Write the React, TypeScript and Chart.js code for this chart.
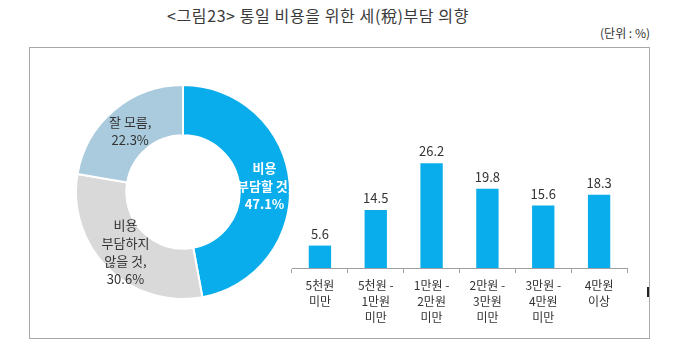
import React, { useEffect, useRef } from 'react';
import { Chart, registerables } from 'chart.js';

Chart.register(...registerables);

const FONT = '"Noto Sans CJK KR", "Noto Sans", sans-serif';

const titleText = '<그림23> 통일 비용을 위한 세(稅)부담 의향';
const unitText = '(단위 : %)';

const donutCategories = [['비용', '부담할 것'], ['비용', '부담하지', '않을 것'], ['잘 모름']];
const donutValues = [47.1, 30.6, 22.3];
const donutColors = ['#0aadeb', '#d9d9d9', '#a9cbdd'];

const barCategories = [
  ['5천원', '미만'],
  ['5천원 -', '1만원', '미만'],
  ['1만원 -', '2만원', '미만'],
  ['2만원 -', '3만원', '미만'],
  ['3만원 -', '4만원', '미만'],
  ['4만원', '이상'],
];
const barValues = [5.6, 14.5, 26.2, 19.8, 15.6, 18.3];

const donutLabelPlugin = {
  id: 'donutLabels',
  afterDatasetsDraw(chart: any) {
    const ctx = chart.ctx;
    const meta = chart.getDatasetMeta(0);
    meta.data.forEach((arc: any, i: number) => {
      const p = arc.tooltipPosition(false);
      const lines = [...donutCategories[i]];
      lines[lines.length - 1] += ',';
      lines.push(donutValues[i].toFixed(1) + '%');
      const lh = 18;
      ctx.save();
      ctx.font = (i === 0 ? 'bold ' : '') + '13px ' + FONT;
      ctx.fillStyle = i === 0 ? '#ffffff' : '#333333';
      ctx.textAlign = 'center';
      ctx.textBaseline = 'middle';
      const y0 = p.y + 2 - ((lines.length - 1) * lh) / 2;
      lines.forEach((l, j) => ctx.fillText(l, p.x, y0 + j * lh));
      ctx.restore();
    });
  },
};

const barLabelPlugin = {
  id: 'barLabels',
  afterDatasetsDraw(chart: any) {
    const ctx = chart.ctx;
    const meta = chart.getDatasetMeta(0);
    ctx.save();
    ctx.font = '13px ' + FONT;
    ctx.fillStyle = '#333333';
    ctx.textAlign = 'center';
    ctx.textBaseline = 'middle';
    meta.data.forEach((bar: any, i: number) => {
      ctx.fillText(barValues[i].toFixed(1), bar.x, bar.y - 12);
    });
    ctx.restore();
  },
};

export default function App() {
  const donutRef = useRef<HTMLCanvasElement>(null);
  const barRef = useRef<HTMLCanvasElement>(null);

  useEffect(() => {
    Chart.defaults.font.family = FONT;
    const donut = new Chart(donutRef.current as HTMLCanvasElement, {
      type: 'doughnut',
      data: {
        labels: donutCategories.map((c) => c.join(' ')),
        datasets: [
          {
            data: donutValues,
            backgroundColor: donutColors,
            borderColor: '#ffffff',
            borderWidth: 2,
          },
        ],
      },
      options: {
        animation: false,
        responsive: false,
        cutout: '53%',
        layout: { padding: 0 },
        plugins: { legend: { display: false }, tooltip: { enabled: false } },
      },
      plugins: [donutLabelPlugin],
    } as any);

    const bar = new Chart(barRef.current as HTMLCanvasElement, {
      type: 'bar',
      data: {
        labels: barCategories,
        datasets: [
          {
            data: barValues,
            backgroundColor: '#0aadeb',
            barPercentage: 0.4,
            categoryPercentage: 1,
          },
        ],
      },
      options: {
        animation: false,
        responsive: false,
        layout: { padding: { left: 12, right: 13, top: 18, bottom: 0 } },
        plugins: { legend: { display: false }, tooltip: { enabled: false } },
        scales: {
          x: {
            grid: {
              display: true,
              drawOnChartArea: false,
              drawTicks: true,
              tickLength: 5,
              color: '#a0a0a0',
              offset: true,
            },
            border: { display: true, color: '#a0a0a0' },
            ticks: {
              color: '#333333',
              font: { size: 12, lineHeight: 1.35 },
              padding: 4,
              maxRotation: 0,
              autoSkip: false,
            },
            afterFit: (s: any) => {
              s.height = 62;
            },
          },
          y: { display: false, min: 0, max: 30 },
        },
      },
      plugins: [barLabelPlugin],
    } as any);

    return () => {
      donut.destroy();
      bar.destroy();
    };
  }, []);

  return (
    <div style={{ position: 'absolute', left: 0, top: 0, width: 680, height: 359, background: '#fff', fontFamily: FONT, overflow: 'hidden' }}>
      <div style={{ position: 'absolute', left: 318, top: 4, transform: 'translateX(-50%)', whiteSpace: 'nowrap', fontSize: 16, letterSpacing: '0.6px', color: '#3a3a3a', lineHeight: '22px' }}>
        {titleText}
      </div>
      <div style={{ position: 'absolute', right: 30, top: 25, whiteSpace: 'nowrap', fontSize: 12, color: '#333', lineHeight: '16px' }}>
        {unitText}
      </div>
      <div style={{ position: 'absolute', left: 29, top: 47, width: 619, height: 290, border: '1px solid #a8a8a8' }} />
      <div style={{ position: 'absolute', left: 647, top: 287, width: 2, height: 10, background: '#222' }} />
      <canvas ref={donutRef} width={216} height={216} style={{ position: 'absolute', left: 75, top: 84, width: 216, height: 216 }} />
      <canvas ref={barRef} width={360} height={200} style={{ position: 'absolute', left: 280, top: 130, width: 360, height: 200 }} />
    </div>
  );
}
